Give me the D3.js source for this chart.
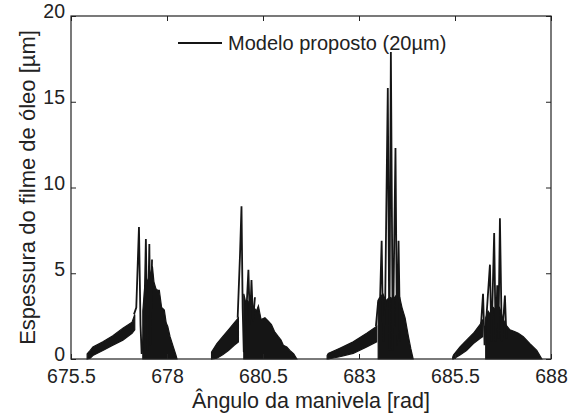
<!DOCTYPE html>
<html>
<head>
<meta charset="utf-8">
<script src="https://cdn.jsdelivr.net/npm/d3@7"></script>
<style>
  body { margin: 0; background: #fff; }
  text { font-family: "Liberation Sans", Arial, Helvetica, sans-serif; fill: #222; }
</style>
</head>
<body>
<div id="chart"></div>
<script>
var xTicks = [675.5, 678, 680.5, 683, 685.5, 688];
var yTicks = [0, 5, 10, 15, 20];

// event 1
var band1X  = [675.92, 676.0, 676.07, 676.33, 676.59, 676.85, 677.09, 677.16];
var band1Lo = [0, 0.05, 0.2, 0.5, 0.8, 1.1, 1.5, 1.7];
var band1Hi = [0.3, 0.5, 0.7, 1.0, 1.35, 1.8, 2.15, 2.6];
var spike1X = [677.14, 677.2, 677.27, 677.31, 677.34, 677.4, 677.45, 677.49, 677.54, 677.57, 677.61];
var spike1Y = [2.6, 3.0, 7.7, 2.0, 0.3, 1.5, 7.0, 0.5, 6.7, 0.8, 5.8];
var tail1X  = [677.37, 677.42, 677.5, 677.57, 677.62, 677.66, 677.71, 677.76, 677.8, 677.86, 677.93, 677.98, 678.02, 678.08, 678.15, 678.23, 678.26];
var tail1Hi = [2.8, 4.2, 4.6, 5.0, 5.4, 4.5, 4.1, 4.0, 4.0, 3.0, 2.85, 2.1, 1.9, 1.3, 0.8, 0.25, 0.0];

// event 2
var band2X  = [679.16, 679.3, 679.45, 679.6, 679.75, 679.86];
var band2Lo = [0, 0.05, 0.25, 0.5, 0.8, 1.0];
var band2Hi = [0.4, 0.9, 1.3, 1.7, 2.1, 2.4];
var spike2X = [679.84, 679.9, 679.94, 679.97, 680.0, 680.05, 680.12, 680.16, 680.2, 680.24, 680.29];
var spike2Y = [2.4, 6.0, 8.9, 3.0, 0.4, 2.0, 5.2, 2.0, 4.6, 2.2, 3.6];
var tail2X  = [680.0, 680.05, 680.1, 680.18, 680.26, 680.33, 680.38, 680.45, 680.55, 680.64, 680.72, 680.8, 680.9, 680.97, 681.03, 681.12, 681.2, 681.3, 681.38];
var tail2Hi = [3.8, 3.3, 3.4, 3.1, 3.0, 2.8, 3.1, 2.3, 2.4, 2.2, 2.0, 1.6, 1.3, 1.1, 0.8, 0.7, 0.5, 0.3, 0.0];

// event 3
var band3X  = [682.17, 682.2, 682.5, 682.85, 683.2, 683.46];
var band3Lo = [0, 0, 0.13, 0.33, 0.7, 1.0];
var band3Hi = [0.2, 0.33, 0.63, 1.0, 1.5, 1.9];
var spike3X = [683.44, 683.5, 683.55, 683.59, 683.63, 683.68, 683.75, 683.79, 683.83, 683.88, 683.95, 683.99, 684.03, 684.07];
var spike3Y = [1.9, 3.4, 3.6, 6.9, 1.0, 3.0, 15.8, 0.5, 17.9, 0.5, 12.3, 0.8, 6.9, 1.0];
var tail3X  = [683.5, 683.56, 683.62, 683.7, 683.8, 683.9, 684.0, 684.06, 684.12, 684.2, 684.28, 684.35, 684.41];
var tail3Hi = [3.3, 3.6, 3.8, 3.4, 3.6, 3.5, 3.8, 3.6, 3.0, 2.4, 1.4, 0.6, 0.0];

// event 4
var band4X  = [685.44, 685.46, 685.63, 685.8, 685.98, 686.15, 686.22];
var band4Lo = [0, 0, 0.23, 0.5, 0.9, 1.2, 1.3];
var band4Hi = [0.1, 0.23, 0.7, 1.1, 1.5, 2.0, 2.3];
var spike4X = [686.18, 686.23, 686.27, 686.32, 686.41, 686.45, 686.52, 686.56, 686.6, 686.63, 686.67, 686.72, 686.8, 686.84];
var spike4Y = [2.1, 3.8, 0.8, 2.5, 5.5, 1.0, 7.35, 1.0, 4.3, 1.2, 8.2, 1.0, 3.7, 1.2];
var tail4X  = [686.3, 686.36, 686.42, 686.5, 686.58, 686.66, 686.74, 686.82, 686.93, 687.05, 687.15, 687.28, 687.45, 687.63, 687.76];
var tail4Hi = [2.4, 2.8, 2.6, 3.0, 2.8, 3.0, 2.4, 2.0, 1.7, 1.6, 1.5, 1.3, 0.9, 0.5, 0.0];

var w = 574, h = 417;
var padL = 71, padR = 551, padT = 16, padB = 359;
var ink = "#151515";

var svg = d3.select("#chart").append("svg")
    .attr("width", w)
    .attr("height", h);

var x = d3.scaleLinear().domain([675.5, 688]).range([padL, padR]);
var y = d3.scaleLinear().domain([0, 20]).range([padB, padT]);

function zipBand(xs, lo, hi) {
  return xs.map(function(v, i) { return {x: v, lo: lo ? lo[i] : 0, hi: hi[i]}; });
}
function zipLine(xs, ys) {
  return xs.map(function(v, i) { return {x: v, y: ys[i]}; });
}

var bands = [
  zipBand(band1X, band1Lo, band1Hi), zipBand(tail1X, null, tail1Hi),
  zipBand(band2X, band2Lo, band2Hi), zipBand(tail2X, null, tail2Hi),
  zipBand(band3X, band3Lo, band3Hi), zipBand(tail3X, null, tail3Hi),
  zipBand(band4X, band4Lo, band4Hi), zipBand(tail4X, null, tail4Hi)
];
var spikes = [
  zipLine(spike1X, spike1Y), zipLine(spike2X, spike2Y),
  zipLine(spike3X, spike3Y), zipLine(spike4X, spike4Y)
];

var area = d3.area()
    .x(function(d) { return x(d.x); })
    .y0(function(d) { return y(d.lo); })
    .y1(function(d) { return y(d.hi); });

var line = d3.line()
    .x(function(d) { return x(d.x); })
    .y(function(d) { return y(d.y); });

svg.append("g").selectAll("path.band")
    .data(bands)
    .enter().append("path")
    .attr("class", "band")
    .attr("d", area)
    .attr("fill", ink)
    .attr("stroke", ink)
    .attr("stroke-width", 1.2)
    .attr("stroke-linejoin", "miter");

svg.append("g").selectAll("path.spike")
    .data(spikes)
    .enter().append("path")
    .attr("class", "spike")
    .attr("d", line)
    .attr("fill", "none")
    .attr("stroke", ink)
    .attr("stroke-width", 1.8)
    .attr("stroke-linejoin", "miter")
    .attr("stroke-miterlimit", 10);

// axes, matlab style: ticks inside on all four sides
var tk = 5;
var xBottom = d3.axisBottom(x).tickValues(xTicks).tickSizeInner(-tk).tickSizeOuter(0).tickPadding(10)
    .tickFormat(function(d) { return d3.format("")(d); });
var xTop = d3.axisTop(x).tickValues(xTicks).tickSizeInner(-tk).tickSizeOuter(0).tickFormat("");
var yLeft = d3.axisLeft(y).tickValues(yTicks).tickSizeInner(-tk).tickSizeOuter(0).tickPadding(6);
var yRight = d3.axisRight(y).tickValues(yTicks).tickSizeInner(-tk).tickSizeOuter(0).tickFormat("");

function style(g) {
  g.select(".domain").remove();
  g.selectAll("line").attr("stroke", "#222");
  g.selectAll("text").style("font-size", "19.5px").attr("fill", "#222");
}

svg.append("g").attr("transform", "translate(0," + padB + ")").call(xBottom).call(style);
svg.append("g").attr("transform", "translate(0," + padT + ")").call(xTop).call(style);
svg.append("g").attr("transform", "translate(" + padL + ",0)").call(yLeft).call(style)
    .selectAll("text").attr("dy", "0.1em");
svg.append("g").attr("transform", "translate(" + padR + ",0)").call(yRight).call(style);

svg.append("rect")
    .attr("x", padL).attr("y", padT)
    .attr("width", padR - padL).attr("height", padB - padT)
    .attr("fill", "none")
    .attr("stroke", "#222")
    .attr("stroke-width", 1.2);

// labels
svg.append("text")
    .attr("x", (padL + padR) / 2)
    .attr("y", 408)
    .attr("text-anchor", "middle")
    .style("font-size", "21.5px")
    .text("Ângulo da manivela [rad]");

svg.append("text")
    .attr("transform", "translate(35," + ((padT + padB) / 2) + ") rotate(-90)")
    .attr("text-anchor", "middle")
    .style("font-size", "22px")
    .text("Espessura do filme de óleo [µm]");

// legend
svg.append("line")
    .attr("x1", 178).attr("x2", 222)
    .attr("y1", 43).attr("y2", 43)
    .attr("stroke", ink)
    .attr("stroke-width", 2);

svg.append("text")
    .attr("x", 228)
    .attr("y", 50)
    .style("font-size", "20px")
    .text("Modelo proposto (20µm)");
</script>
</body>
</html>
